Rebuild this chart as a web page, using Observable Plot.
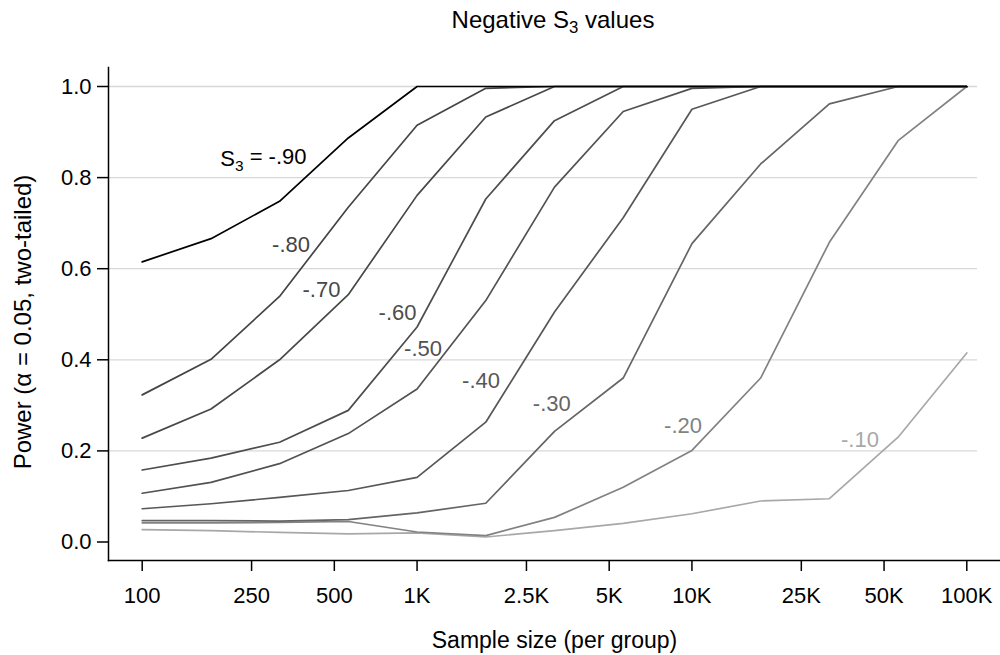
<!DOCTYPE html>
<html>
<head>
<meta charset="utf-8">
<script src="https://cdn.jsdelivr.net/npm/d3@7"></script>
<script src="https://cdn.jsdelivr.net/npm/@observablehq/plot@0.6"></script>
<style>
  html, body { margin: 0; padding: 0; background: #fff; }
  body { width: 1000px; height: 655px; font-family: "Liberation Sans", Arial, Helvetica, sans-serif; }
  #title {
    box-sizing: border-box; width: 1000px; height: 45px;
    padding: 8px 0 0 106px; text-align: center;
    font-size: 24px; line-height: 24px; color: #000;
  }
  #title .sub { font-size: 0.7em; position: relative; top: 0.28em; }
  #chart svg { display: block; }
</style>
</head>
<body>
<div id="title">Negative S<span class="sub">3</span> values</div>
<div id="chart"></div>
<script>
// Sample sizes per group (quarter-decade steps)
const sampleSizes = [100, 178, 316, 562, 1000, 1778, 3162, 5623, 10000, 17783, 31623, 56234, 100000];

// Power at alpha = 0.05 (two-tailed) for each negative S3 value
const power90 = [0.615, 0.666, 0.748, 0.887, 1.000, 1.000, 1.000, 1.000, 1.000, 1.000, 1.000, 1.000, 1.000];
const power80 = [0.323, 0.401, 0.539, 0.735, 0.915, 0.996, 1.000, 1.000, 1.000, 1.000, 1.000, 1.000, 1.000];
const power70 = [0.228, 0.292, 0.400, 0.543, 0.761, 0.933, 1.000, 1.000, 1.000, 1.000, 1.000, 1.000, 1.000];
const power60 = [0.158, 0.184, 0.219, 0.289, 0.472, 0.753, 0.925, 1.000, 1.000, 1.000, 1.000, 1.000, 1.000];
const power50 = [0.107, 0.131, 0.172, 0.238, 0.336, 0.530, 0.779, 0.945, 0.996, 1.000, 1.000, 1.000, 1.000];
const power40 = [0.073, 0.084, 0.098, 0.113, 0.142, 0.263, 0.505, 0.712, 0.950, 1.000, 1.000, 1.000, 1.000];
const power30 = [0.047, 0.047, 0.046, 0.049, 0.064, 0.085, 0.243, 0.360, 0.655, 0.830, 0.962, 1.000, 1.000];
const power20 = [0.042, 0.042, 0.043, 0.045, 0.022, 0.014, 0.054, 0.120, 0.201, 0.360, 0.658, 0.881, 1.000];
const power10 = [0.027, 0.025, 0.021, 0.018, 0.020, 0.011, 0.025, 0.041, 0.062, 0.090, 0.095, 0.230, 0.415];

const s3Labels = ["S3 = -.90", "-.80", "-.70", "-.60", "-.50", "-.40", "-.30", "-.20", "-.10"];
const seriesPower = [power90, power80, power70, power60, power50, power40, power30, power20, power10];

// Where each curve's label sits (sample size, power)
const labelSize  = [276, 348, 449, 849, 1051, 1709, 3092, 9280, 40870];
const labelPower = [0.841, 0.653, 0.554, 0.503, 0.423, 0.354, 0.303, 0.255, 0.223];

// Axis ticks
const xTickValues = [100, 250, 500, 1000, 2500, 5000, 10000, 25000, 50000, 100000];
const xTickLabels = ["100", "250", "500", "1K", "2.5K", "5K", "10K", "25K", "50K", "100K"];
const yTickValues = [0, 0.2, 0.4, 0.6, 0.8, 1.0];
const yGridValues = [0.2, 0.4, 0.6, 0.8, 1.0];

// Grey ramp: darkest for the strongest effect
const seriesColors = ["#000000", "#444444", "#484848", "#4d4d4d", "#525252", "#575757", "#656565", "#828282", "#a8a8a8"];

const rows = seriesPower.flatMap((vals, k) =>
  vals.map((p, i) => ({ series: k, n: sampleSizes[i], power: p })));
const labelRows = s3Labels.map((t, k) => ({ series: k, text: t, n: labelSize[k], power: labelPower[k] }));

const FONT = "'Liberation Sans', Arial, Helvetica, sans-serif";

// Lines drawn lightest first so the darker curves sit on top
const lineMarks = seriesPower.map((_, k) => k).reverse().map(k =>
  Plot.line(rows.filter(r => r.series === k), {
    x: "n", y: "power", stroke: seriesColors[k], strokeWidth: 1.7
  }));

const chart = Plot.plot({
  width: 1000,
  height: 610,
  marginLeft: 108,
  marginRight: 0,
  marginTop: 22,
  marginBottom: 95,
  style: { fontFamily: FONT, fontSize: "22px", background: "#fff", color: "#000" },
  x: { type: "log", domain: [100, 100000], range: [141.7, 966.3] },
  y: { domain: [0, 1], range: [496.5, 41] },
  marks: [
    Plot.ruleY(yGridValues, { stroke: "#d8d8d8", strokeWidth: 1.3, insetRight: 23 }),
    Plot.frame({ anchor: "left", stroke: "#000", strokeWidth: 1.5 }),
    Plot.frame({ anchor: "bottom", stroke: "#000", strokeWidth: 1.5 }),
    Plot.axisY({
      ticks: yTickValues, tickFormat: d => d.toFixed(1), tickSize: 11, tickPadding: 6,
      strokeWidth: 1.5, fontSize: 22, label: null
    }),
    // tick marks only; the labels are drawn by the text mark below
    Plot.axisX({ ticks: xTickValues, tickSize: 11, strokeWidth: 1.5, fill: "none", label: null }),
    Plot.text(xTickValues, {
      x: d => d, text: (d, i) => xTickLabels[i], frameAnchor: "bottom",
      dy: 27, lineAnchor: "top", fontSize: 22, fill: "#000"
    }),
    ...lineMarks,
    Plot.text(labelRows, {
      x: "n", y: "power", text: "text", fill: d => seriesColors[d.series],
      fontSize: 22, textAnchor: "middle", lineAnchor: "middle"
    }),
    Plot.text(["Sample size (per group)"], {
      x: () => Math.sqrt(sampleSizes[0] * sampleSizes[sampleSizes.length - 1]),
      frameAnchor: "bottom", dy: 80, fontSize: 23, lineAnchor: "middle", fill: "#000"
    }),
    Plot.text(["Power (\u03b1 = 0.05, two-tailed)"], {
      frameAnchor: "left", dx: -85.5, dy: 8, rotate: -90, fontSize: 24,
      textAnchor: "middle", lineAnchor: "middle", fill: "#000"
    })
  ]
});

// Subscript for the S3 label inside the plot
d3.select(chart).selectAll("text").each(function () {
  const t = this.textContent;
  if (t.startsWith("S3")) {
    const el = d3.select(this);
    el.text(null);
    el.append("tspan").text("S");
    el.append("tspan").attr("font-size", "70%").attr("dy", "0.3em").text("3");
    el.append("tspan").attr("dy", "-0.3em").text(t.slice(2));
  }
});

document.getElementById("chart").appendChild(chart);
</script>
</body>
</html>
